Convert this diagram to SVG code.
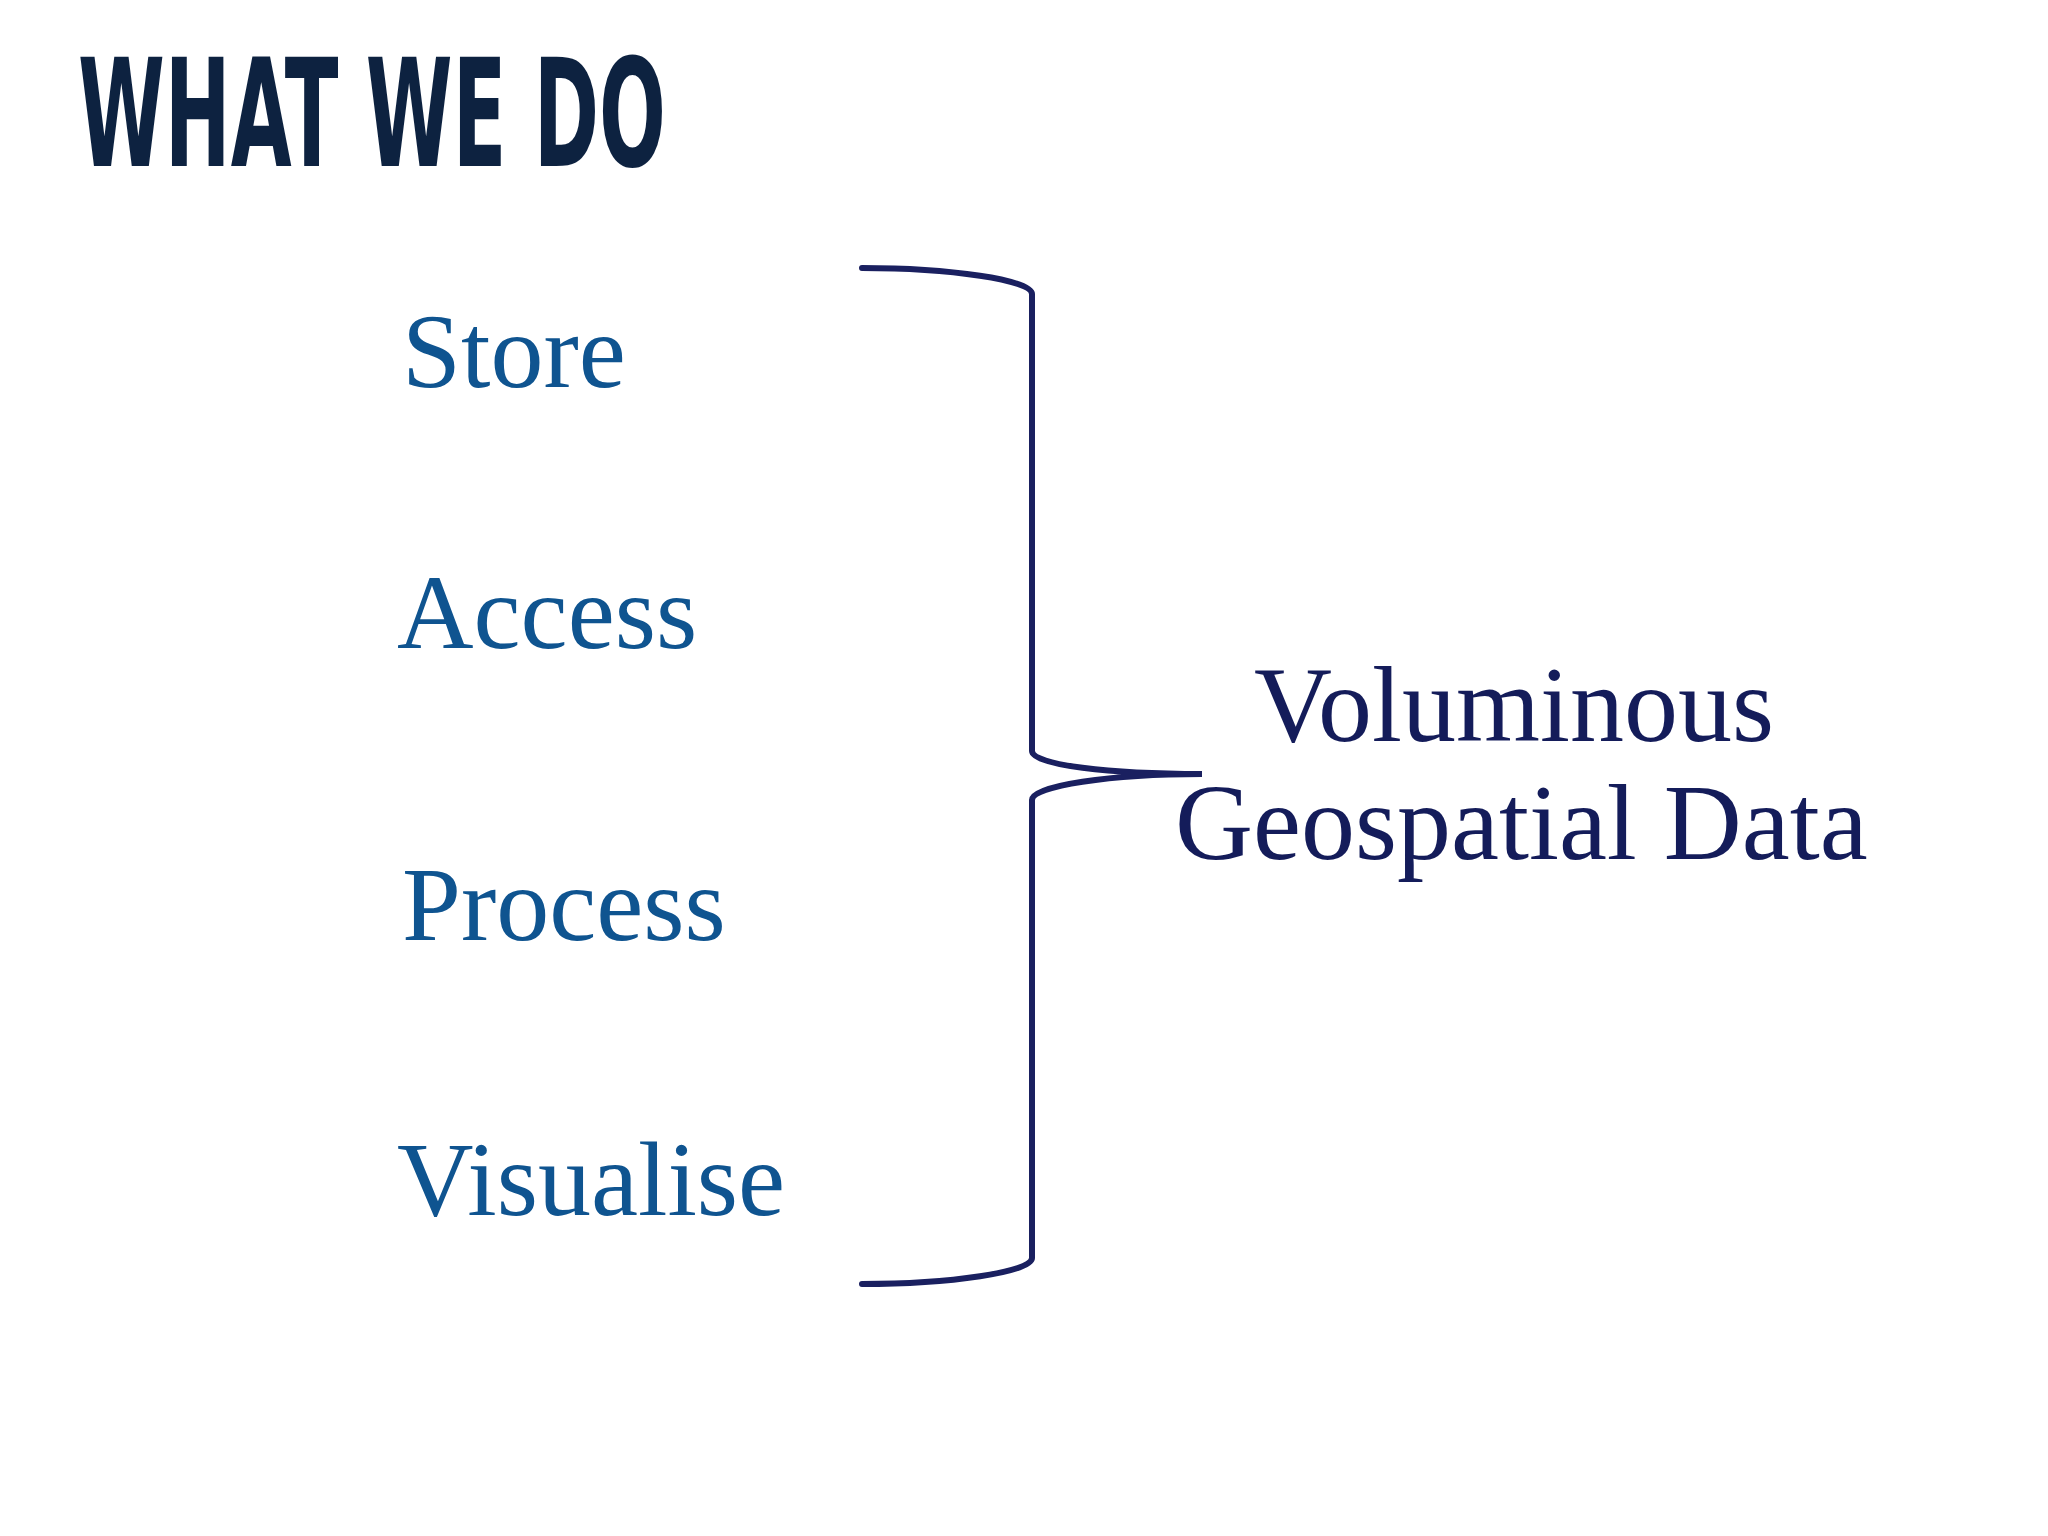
<svg xmlns="http://www.w3.org/2000/svg" width="2048" height="1536" viewBox="0 0 2048 1536">
<style>
.item{font-family:"Liberation Serif",serif;font-size:106px;fill:#0f5490}
.res{font-family:"Liberation Serif",serif;font-size:108px;fill:#141c5a}
.title{font-family:"DejaVu Sans Condensed","DejaVu Sans",sans-serif;font-weight:bold;font-size:150px;fill:#0d2240}
</style>
<rect width="2048" height="1536" fill="#fff"/>
<g id="title"><text class="title" x="78" y="166" textLength="588" lengthAdjust="spacingAndGlyphs">WHAT WE DO</text></g>
<g id="store"><text class="item" x="402" y="387">Store</text></g>
<g id="access"><text class="item" x="397" y="648">Access</text></g>
<g id="process"><text class="item" x="402" y="940">Process</text></g>
<g id="visualise"><text class="item" x="397" y="1215">Visualise</text></g>
<g id="data">
<text class="res" x="1254" y="741">Voluminous</text>
<text class="res" x="1175" y="859">Geospatial Data</text>
</g>
<g id="connectors" fill="none" stroke="#1a2060" stroke-width="6" stroke-linecap="round">
<path d="M862 268 C950 268 1032 280 1032 294 L1032 751 C1032 765 1110 774 1202 774 C1110 774 1032 786 1032 800 L1032 1258 C1032 1272 950 1284 862 1284"/>
</g>
</svg>
